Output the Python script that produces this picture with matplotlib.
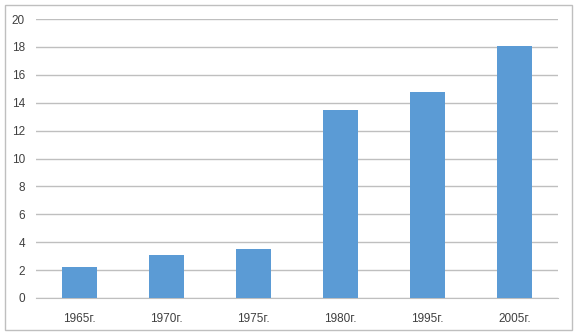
import matplotlib
matplotlib.use('Agg')
import matplotlib.pyplot as plt
from matplotlib.patches import Rectangle

anos = ['1965г.', '1970г.', '1975г.', '1980г.', '1995г.', '2005г.']
valores = [2.2, 3.1, 3.5, 13.5, 14.8, 18.1]

plt.rcParams['font.family'] = ['Liberation Sans', 'DejaVu Sans']

fig = plt.figure(figsize=(5.78, 3.35), dpi=100)
ax = fig.add_axes([36/578, 1 - 298/335, 522/578, 279/335])

x = range(len(anos))
ax.bar(x, valores, width=0.4, color='#5B9BD5', zorder=3)

ax.set_xlim(-0.5, len(anos) - 0.5)
ax.set_ylim(0, 20)
ax.set_yticks(range(0, 21, 2))
ax.set_xticks(list(x))
ax.set_xticklabels(anos)
ax.grid(axis='y', color='#BFBFBF', linewidth=1, zorder=0)
ax.tick_params(axis='both', length=0, labelsize=8.5, colors='#404040')
ax.tick_params(axis='x', pad=11)
ax.tick_params(axis='y', pad=8)
for s in ['top', 'right', 'left']:
    ax.spines[s].set_visible(False)
ax.spines['bottom'].set_color('#BFBFBF')

# moldura externa
fig.patches.append(Rectangle((5/578, 1 - 330/335), 567/578, 325/335,
                             transform=fig.transFigure, fill=False,
                             edgecolor='#BFBFBF', linewidth=1))

plt.savefig('out.png', dpi=100)
plt.close()
